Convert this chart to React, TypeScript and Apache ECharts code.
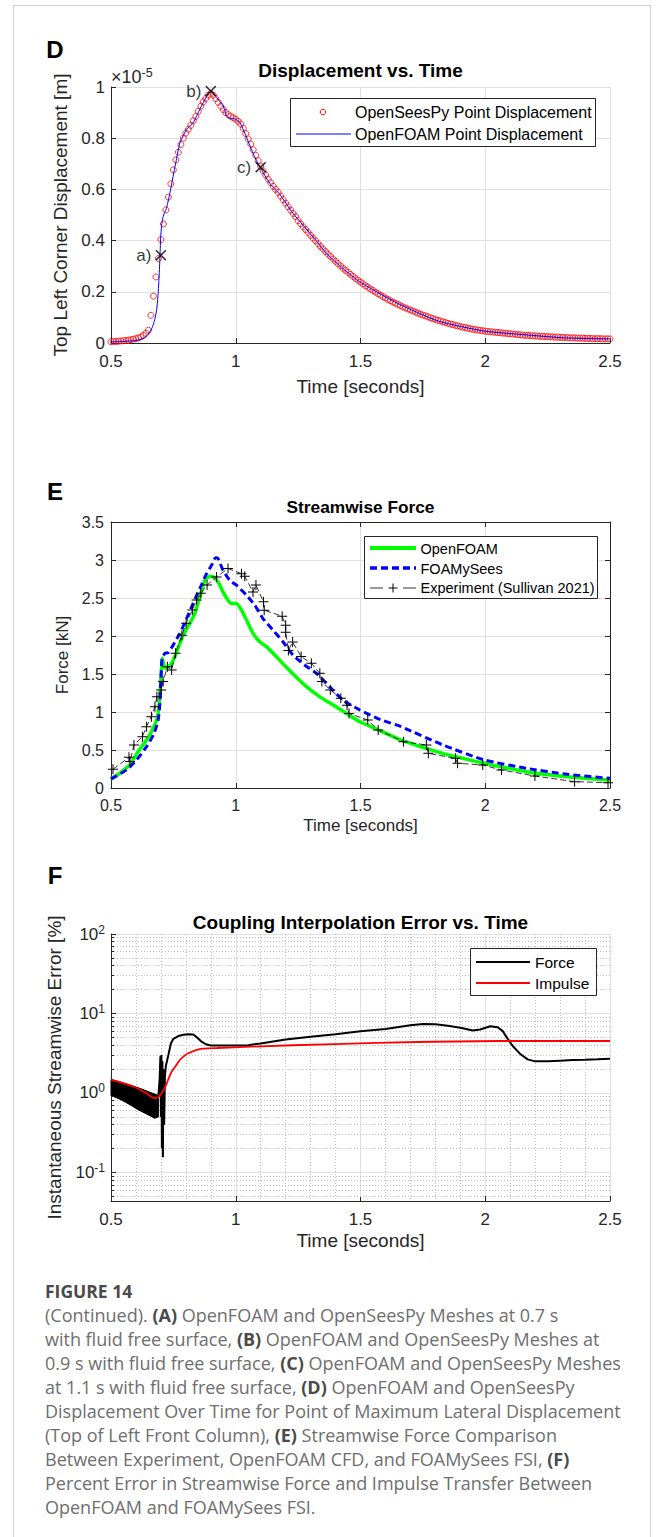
import React, { useEffect, useRef } from "react";
import * as echarts from "echarts";

const FONT = "'Liberation Sans', Arial, Helvetica, sans-serif";
const CAPTION_FONT = "'Open Sans', 'Noto Sans', sans-serif";
const AXIS_COLOR = "#262626";
const GRID_COLOR = "#e0e0e0";
const MINOR_GRID_COLOR = "#bdbdbd";

// ---------------- Panel D: Displacement vs. Time ----------------
const dispTimeStart = 0.5;
const dispTimeStep = 0.01;
// OpenSeesPy point displacement (x1e-5 m), one value every 0.01 s from 0.5 s to 2.5 s
const openSeesPyDisp = [
  0.005, 0.006, 0.006, 0.007, 0.008, 0.009, 0.01, 0.011, 0.013, 0.015,
  0.017, 0.02, 0.024, 0.03, 0.038, 0.05, 0.108, 0.183, 0.258, 0.33,
  0.404, 0.465, 0.52, 0.57, 0.622, 0.676, 0.715, 0.745, 0.775, 0.8,
  0.82, 0.835, 0.85, 0.868, 0.885, 0.905, 0.925, 0.942, 0.955, 0.968,
  0.975, 0.968, 0.955, 0.94, 0.925, 0.912, 0.9, 0.892, 0.885, 0.88,
  0.874, 0.866, 0.855, 0.838, 0.818, 0.797, 0.777, 0.755, 0.733, 0.712,
  0.69, 0.672, 0.656, 0.64, 0.626, 0.612, 0.6, 0.588, 0.574, 0.56,
  0.546, 0.532, 0.519, 0.506, 0.494, 0.478, 0.466, 0.454, 0.443, 0.432,
  0.421, 0.41, 0.399, 0.388, 0.377, 0.367, 0.357, 0.347, 0.338, 0.328,
  0.319, 0.31, 0.301, 0.292, 0.284, 0.276, 0.268, 0.26, 0.252, 0.245,
  0.238, 0.231, 0.224, 0.218, 0.211, 0.205, 0.199, 0.193, 0.187, 0.181,
  0.176, 0.17, 0.165, 0.16, 0.155, 0.151, 0.146, 0.141, 0.137, 0.133,
  0.129, 0.125, 0.121, 0.117, 0.113, 0.109, 0.106, 0.102, 0.099, 0.095,
  0.092, 0.089, 0.086, 0.083, 0.08, 0.077, 0.074, 0.072, 0.069, 0.067,
  0.064, 0.062, 0.06, 0.058, 0.056, 0.054, 0.052, 0.051, 0.049, 0.048,
  0.046, 0.045, 0.044, 0.043, 0.042, 0.041, 0.04, 0.039, 0.038, 0.037,
  0.036, 0.035, 0.034, 0.033, 0.032, 0.031, 0.03, 0.03, 0.029, 0.028,
  0.028, 0.027, 0.026, 0.026, 0.025, 0.025, 0.024, 0.024, 0.023, 0.023,
  0.022, 0.022, 0.021, 0.021, 0.02, 0.02, 0.02, 0.019, 0.019, 0.019,
  0.018, 0.018, 0.018, 0.017, 0.017, 0.017, 0.017, 0.016, 0.016, 0.016,
  0.016,
];
// OpenFOAM point displacement [time, x1e-5 m]
const openFoamDisp: [number, number][] = [
  [0.5, 0.004], [0.55, 0.006], [0.6, 0.01], [0.63, 0.018], [0.65, 0.035],
  [0.665, 0.06], [0.675, 0.09], [0.683, 0.13], [0.688, 0.18], [0.692, 0.245],
  [0.696, 0.33], [0.699, 0.41], [0.703, 0.46], [0.708, 0.49], [0.715, 0.51],
  [0.722, 0.525], [0.736, 0.585], [0.756, 0.687], [0.777, 0.785], [0.79, 0.81],
  [0.803, 0.835], [0.83, 0.862], [0.857, 0.915], [0.884, 0.965], [0.895, 0.978],
  [0.904, 0.982], [0.915, 0.97], [0.924, 0.958], [0.95, 0.925], [0.965, 0.885],
  [0.977, 0.878], [0.997, 0.875], [1.017, 0.86], [1.037, 0.818], [1.07, 0.74],
  [1.097, 0.687], [1.137, 0.623], [1.16, 0.598], [1.177, 0.58], [1.23, 0.506],
  [1.31, 0.414], [1.364, 0.35], [1.43, 0.291], [1.5, 0.237], [1.646, 0.156],
  [1.814, 0.085], [2.0, 0.046], [2.15, 0.033], [2.316, 0.02], [2.5, 0.016],
];
const snapshotTimes = [0.7, 0.9, 1.1];
const snapshotDisp = [0.343, 0.984, 0.687];
const snapshotLabels = ["a)", "b)", "c)"];

// ---------------- Panel E: Streamwise Force ----------------
const openFoamForce: [number, number][] = [
  [0.5, 0.118], [0.536, 0.197], [0.576, 0.306], [0.609, 0.481], [0.643, 0.634],
  [0.669, 0.787], [0.687, 0.94], [0.693, 1.115], [0.699, 1.378], [0.703, 1.597],
  [0.705, 1.706], [0.712, 1.62], [0.72, 1.575], [0.743, 1.64], [0.763, 1.79],
  [0.789, 2.01], [0.816, 2.165], [0.836, 2.297], [0.856, 2.515], [0.876, 2.734],
  [0.896, 2.786], [0.916, 2.769], [0.933, 2.69], [0.949, 2.58], [0.969, 2.47],
  [0.983, 2.428], [1.003, 2.428], [1.023, 2.34], [1.043, 2.21], [1.069, 2.034],
  [1.096, 1.925], [1.123, 1.86], [1.163, 1.728], [1.203, 1.588], [1.243, 1.457],
  [1.283, 1.334], [1.336, 1.203], [1.389, 1.094], [1.443, 0.984], [1.496, 0.875],
  [1.571, 0.765], [1.663, 0.63], [1.83, 0.456], [1.998, 0.325], [2.165, 0.215],
  [2.33, 0.149], [2.5, 0.105],
];
const foamySeesForce: [number, number][] = [
  [0.5, 0.118], [0.563, 0.24], [0.603, 0.372], [0.643, 0.547], [0.673, 0.722],
  [0.689, 0.897], [0.696, 1.115], [0.7, 1.42], [0.705, 1.706], [0.716, 1.772],
  [0.729, 1.78], [0.749, 1.88], [0.776, 2.034], [0.803, 2.23], [0.829, 2.428],
  [0.856, 2.625], [0.883, 2.82], [0.903, 2.93], [0.919, 3.03], [0.929, 3.02],
  [0.949, 2.865], [0.976, 2.734], [1.003, 2.668], [1.043, 2.537], [1.076, 2.406],
  [1.109, 2.23], [1.149, 2.078], [1.189, 1.925], [1.229, 1.75], [1.276, 1.619],
  [1.323, 1.509], [1.376, 1.334], [1.429, 1.159], [1.496, 1.028], [1.58, 0.9],
  [1.663, 0.807], [1.83, 0.566], [1.998, 0.368], [2.165, 0.259], [2.33, 0.18],
  [2.5, 0.127],
];
const experimentForce: [number, number][] = [
  [0.508, 0.246], [0.572, 0.404], [0.576, 0.35], [0.592, 0.566], [0.626, 0.675],
  [0.642, 0.807], [0.662, 0.939], [0.676, 1.07], [0.684, 1.2], [0.701, 1.29],
  [0.709, 1.4], [0.726, 1.596], [0.743, 1.553], [0.759, 1.772], [0.784, 2.01],
  [0.801, 2.167], [0.826, 2.342], [0.843, 2.474], [0.86, 2.561], [0.885, 2.671],
  [0.923, 2.777], [0.969, 2.887], [1.023, 2.82], [1.036, 2.786], [1.069, 2.58],
  [1.081, 2.67], [1.111, 2.45], [1.114, 2.34], [1.186, 2.26], [1.2, 2.14],
  [1.2, 2.05], [1.211, 1.81], [1.228, 1.92], [1.262, 1.73], [1.303, 1.64],
  [1.337, 1.51], [1.345, 1.4], [1.379, 1.29], [1.421, 1.18], [1.446, 1.09],
  [1.454, 0.98], [1.529, 0.895], [1.571, 0.763], [1.672, 0.61], [1.764, 0.566],
  [1.772, 0.456], [1.881, 0.39], [1.889, 0.325], [1.99, 0.303], [2.065, 0.237],
  [2.199, 0.158], [2.358, 0.083], [2.492, 0.07],
];

// ---------------- Panel F: Coupling Interpolation Error ----------------
// rapidly oscillating force error before impact: upper / lower envelope of the black band
const forceBandTimes = [0.5, 0.52, 0.54, 0.56, 0.58, 0.6, 0.62, 0.64, 0.66, 0.675, 0.69];
const forceBandUpper = [1.48, 1.43, 1.37, 1.31, 1.25, 1.19, 1.13, 1.07, 1.01, 0.97, 0.93];
const forceBandLower = [0.92, 0.88, 0.82, 0.76, 0.7, 0.64, 0.59, 0.55, 0.51, 0.48, 0.5];
const forceError: [number, number][] = [
  [0.69, 0.92], [0.695, 1.5], [0.698, 2.9], [0.7, 0.5], [0.702, 3.0],
  [0.704, 0.2], [0.706, 2.5], [0.708, 0.155], [0.71, 2.0], [0.713, 0.4],
  [0.716, 1.6], [0.72, 2.2], [0.73, 3.0], [0.74, 4.2], [0.75, 4.8],
  [0.77, 5.2], [0.79, 5.4], [0.81, 5.5], [0.83, 5.45], [0.845, 5.0],
  [0.86, 4.5], [0.88, 4.1], [0.9, 3.95], [0.95, 3.95], [1.0, 3.95],
  [1.05, 4.0], [1.1, 4.2], [1.2, 4.7], [1.3, 5.1], [1.4, 5.5],
  [1.5, 6.0], [1.6, 6.4], [1.7, 7.1], [1.75, 7.4], [1.8, 7.3],
  [1.85, 7.0], [1.9, 6.6], [1.95, 6.1], [1.98, 6.3], [2.02, 6.9],
  [2.05, 6.7], [2.07, 6.0], [2.09, 4.8], [2.11, 3.9], [2.14, 3.1],
  [2.17, 2.65], [2.2, 2.5], [2.25, 2.5], [2.3, 2.55], [2.35, 2.6],
  [2.4, 2.62], [2.45, 2.65], [2.5, 2.7],
];
const impulseError: [number, number][] = [
  [0.5, 1.46], [0.55, 1.32], [0.592, 1.2], [0.64, 1.0], [0.676, 0.86],
  [0.692, 0.9], [0.705, 1.02], [0.718, 1.2], [0.73, 1.5], [0.743, 1.85],
  [0.76, 2.2], [0.776, 2.6], [0.795, 2.95], [0.81, 3.16], [0.835, 3.42],
  [0.86, 3.58], [0.89, 3.65], [0.927, 3.68], [1.061, 3.83], [1.395, 4.13],
  [1.73, 4.38], [2.065, 4.51], [2.5, 4.51],
];
const logMinorValues = [
  0.05, 0.06, 0.07, 0.08, 0.09,
  0.2, 0.3, 0.4, 0.5, 0.6, 0.7, 0.8, 0.9,
  2, 3, 4, 5, 6, 7, 8, 9,
  20, 30, 40, 50, 60, 70, 80, 90,
];

const captionLines = [
  "(Continued). {b|(A)} OpenFOAM and OpenSeesPy Meshes at 0.7 s",
  "with fluid free surface, {b|(B)} OpenFOAM and OpenSeesPy Meshes at",
  "0.9 s with fluid free surface, {b|(C)} OpenFOAM and OpenSeesPy Meshes",
  "at 1.1 s with fluid free surface, {b|(D)} OpenFOAM and OpenSeesPy",
  "Displacement Over Time for Point of Maximum Lateral Displacement",
  "(Top of Left Front Column), {b|(E)} Streamwise Force Comparison",
  "Between Experiment, OpenFOAM CFD, and FOAMySees FSI, {b|(F)}",
  "Percent Error in Streamwise Force and Impulse Transfer Between",
  "OpenFOAM and FOAMySees FSI.",
];

const X_PATH = "path://M0,1L1,0L5,4L9,0L10,1L6,5L10,9L9,10L5,6L1,10L0,9L4,5Z";
const PLUS_PATH = "path://M4.5,0H5.5V4.5H10V5.5H5.5V10H4.5V5.5H0V4.5H4.5Z";

function txt(x: number, y: number, text: string, opts: any = {}) {
  const align = opts.align || "left";
  return {
    type: "text",
    x,
    y,
    z: 100,
    style: {
      text,
      fill: opts.fill || "#000",
      fontSize: opts.fontSize || 16,
      fontFamily: opts.fontFamily || FONT,
      fontWeight: opts.fontWeight || "normal",
      align,
      textAlign: align,
      verticalAlign: "middle",
      textVerticalAlign: "middle",
      rich: opts.rich,
    },
  };
}
function hline(x1: number, y1: number, x2: number, y2: number, stroke: string, lineWidth = 1, lineDash?: number[]) {
  return {
    type: "line",
    z: 100,
    shape: { x1, y1, x2, y2 },
    style: { stroke, lineWidth, lineDash },
  };
}
function box(x: number, y: number, w: number, h: number) {
  return {
    type: "rect",
    z: 99,
    shape: { x, y, width: w, height: h },
    style: { fill: "#ffffff", stroke: AXIS_COLOR, lineWidth: 1 },
  };
}

const supRich = (base: number, sup: number) => ({
  b: { fontSize: base, fontFamily: FONT, color: AXIS_COLOR, fill: AXIS_COLOR },
  s: { fontSize: sup, fontFamily: FONT, color: AXIS_COLOR, fill: AXIS_COLOR, padding: [0, 0, 9, 0] },
});

function valueAxis(gridIndex: number, min: number, max: number, interval: number, o: any = {}) {
  return {
    type: "value",
    gridIndex,
    min,
    max,
    interval,
    position: o.position,
    axisLine: { show: true, onZero: false, lineStyle: { color: AXIS_COLOR, width: 1 } },
    axisTick: { show: true, inside: true, length: 5, lineStyle: { color: AXIS_COLOR } },
    axisLabel: o.noLabel
      ? { show: false }
      : { show: true, color: AXIS_COLOR, fontSize: o.fontSize || 17, fontFamily: FONT, margin: o.margin ?? 8 },
    splitLine: { show: !!o.split, lineStyle: { color: GRID_COLOR, width: 1 } },
    name: o.name,
    nameLocation: "middle",
    nameGap: o.nameGap,
    nameTextStyle: { color: AXIS_COLOR, fontSize: o.nameSize || 19, fontFamily: FONT },
  };
}

export default function App() {
  const ref = useRef<HTMLDivElement>(null);
  useEffect(() => {
    document.body.style.margin = "0";
    if (!ref.current) return;
    const chart = echarts.init(ref.current, null, { renderer: "svg", width: 656, height: 1537 });

    const openSeesPyData = openSeesPyDisp.map((v, i) => [dispTimeStart + i * dispTimeStep, v]);
    const snapshotData = snapshotTimes.map((t, i) => ({ value: [t, snapshotDisp[i]], name: snapshotLabels[i] }));
    const bandData = forceBandTimes.map((t, i) => [t, forceBandUpper[i], forceBandLower[i]]);

    const logLabel = (v: number) => {
      const e = Math.log10(v);
      const r = Math.round(e);
      if (Math.abs(e - r) > 1e-6) return "";
      return `{b|10}{s|${r}}`;
    };

    const graphics: any[] = [
      // page frame
      hline(13.5, 5, 13.5, 1537, "#d4d4d4"),
      hline(13, 5.5, 650.5, 5.5, "#d4d4d4"),
      hline(650.5, 5, 650.5, 1537, "#d4d4d4"),
      // panel letters
      txt(55, 49, "D", { fontSize: 24, fontWeight: "bold", align: "center" }),
      txt(55, 491, "E", { fontSize: 24, fontWeight: "bold", align: "center" }),
      txt(55, 875, "F", { fontSize: 24, fontWeight: "bold", align: "center" }),
      // titles
      txt(360.5, 70, "Displacement vs. Time", { fontSize: 19, fontWeight: "bold", align: "center" }),
      txt(360.5, 507, "Streamwise Force", { fontSize: 17.3, fontWeight: "bold", align: "center" }),
      txt(360.5, 922, "Coupling Interpolation Error vs. Time", { fontSize: 19, fontWeight: "bold", align: "center" }),
      // exponent
      txt(111, 77, "{b|×10}{s|-5}", { rich: supRich(18, 12.5), fill: AXIS_COLOR }),
      // legend D
      box(290.5, 98.5, 305, 48),
      { type: "circle", z: 100, shape: { cx: 323, cy: 112, r: 2.8 }, style: { fill: "none", stroke: "#ff0000", lineWidth: 1 } },
      hline(296, 134, 351, 134, "#0000ff", 1),
      txt(355, 112.5, "OpenSeesPy Point Displacement", { fontSize: 16 }),
      txt(355, 134, "OpenFOAM Point Displacement", { fontSize: 16 }),
      // legend E
      box(364.5, 536.5, 233, 62),
      hline(370, 548, 416, 548, "#00ff00", 4),
      hline(370, 568, 416, 568, "#0000ff", 3.5, [7, 4]),
      hline(370, 588, 383, 588, "#000000", 0.8),
      hline(403, 588, 416, 588, "#000000", 0.8),
      hline(388.5, 588, 397.5, 588, "#000000", 1),
      hline(393, 583.5, 393, 592.5, "#000000", 1),
      txt(420.5, 548.5, "OpenFOAM", { fontSize: 14.5 }),
      txt(420.5, 568.5, "FOAMySees", { fontSize: 14.5 }),
      txt(420.5, 588, "Experiment (Sullivan 2021)", { fontSize: 14.5 }),
      // legend F
      box(470.5, 948.5, 126, 47),
      hline(476, 962, 530, 962, "#000000", 2),
      hline(476, 983, 530, 983, "#ff0000", 2),
      txt(535, 962, "Force", { fontSize: 15.5 }),
      txt(535, 983, "Impulse", { fontSize: 15.5 }),
      // caption
      txt(45, 1291, "FIGURE 14", { fontSize: 17.5, fontWeight: "bold", fontFamily: CAPTION_FONT, fill: "#4a4a4a" }),
      ...captionLines.map((line, i) =>
        txt(45, 1315 + i * 24, line, {
          fontSize: 18,
          fontFamily: CAPTION_FONT,
          fill: "#6e6e6e",
          rich: { b: { fontWeight: "bold", fontSize: 18, fontFamily: CAPTION_FONT, fill: "#4a4a4a", color: "#4a4a4a" } },
        })
      ),
    ];

    const option: any = {
      animation: false,
      backgroundColor: "#ffffff",
      grid: [
        { left: 111, top: 87, width: 499, height: 256, show: false },
        { left: 111, top: 522, width: 499, height: 266, show: false },
        { left: 111, top: 934, width: 499, height: 267, show: false },
      ],
      xAxis: [
        valueAxis(0, 0.5, 2.5, 0.5, { split: true, name: "Time [seconds]", nameGap: 34, margin: 10 }),
        valueAxis(1, 0.5, 2.5, 0.5, { split: true, name: "Time [seconds]", nameGap: 29, margin: 9, fontSize: 16, nameSize: 17 }),
        valueAxis(1, 0.5, 2.5, 0.5, { position: "top", noLabel: true }),
        {
          ...valueAxis(2, 0.5, 2.5, 0.5, { split: true, name: "Time [seconds]", nameGap: 30, margin: 10 }),
          minorTick: { show: false, splitNumber: 5 },
          minorSplitLine: { show: true, lineStyle: { color: MINOR_GRID_COLOR, type: [1, 2], width: 1 } },
        },
      ],
      yAxis: [
        valueAxis(0, 0, 1, 0.2, { split: true, name: "Top Left Corner Displacement [m]", nameGap: 35, margin: 6 }),
        valueAxis(1, 0, 3.5, 0.5, { split: true, name: "Force [kN]", nameGap: 28, margin: 7, fontSize: 16, nameSize: 17 }),
        valueAxis(1, 0, 3.5, 0.5, { position: "right", noLabel: true }),
        {
          type: "log",
          logBase: 10,
          gridIndex: 2,
          min: 0.0438,
          max: 100,
          axisLine: { show: true, onZero: false, lineStyle: { color: AXIS_COLOR, width: 1 } },
          axisTick: { show: true, inside: true, length: 5, lineStyle: { color: AXIS_COLOR } },
          axisLabel: {
            show: true,
            color: AXIS_COLOR,
            fontFamily: FONT,
            fontSize: 17,
            margin: 6,
            formatter: logLabel,
            rich: supRich(17, 12),
          },
          splitLine: { show: true, lineStyle: { color: GRID_COLOR, width: 1 } },
          name: "Instantaneous Streamwise Error [%]",
          nameLocation: "middle",
          nameGap: 47,
          nameTextStyle: { color: AXIS_COLOR, fontSize: 19, fontFamily: FONT },
        },
      ],
      series: [
        // ---- D ----
        {
          type: "scatter",
          name: "OpenSeesPy Point Displacement",
          xAxisIndex: 0,
          yAxisIndex: 0,
          data: openSeesPyData,
          symbol: "circle",
          symbolSize: 6,
          itemStyle: { color: "rgba(0,0,0,0)", borderColor: "#ff0000", borderWidth: 1 },
          silent: true,
          z: 2,
        },
        {
          type: "line",
          name: "OpenFOAM Point Displacement",
          xAxisIndex: 0,
          yAxisIndex: 0,
          data: openFoamDisp,
          showSymbol: false,
          smooth: 0.2,
          lineStyle: { color: "#0000ff", width: 1 },
          silent: true,
          z: 3,
        },
        {
          type: "scatter",
          name: "snapshots",
          xAxisIndex: 0,
          yAxisIndex: 0,
          data: snapshotData,
          symbol: X_PATH,
          symbolSize: 11,
          itemStyle: { color: "#000000" },
          label: {
            show: true,
            position: "left",
            distance: 4,
            formatter: (p: any) => p.name,
            color: "#000000",
            fontSize: 17,
            fontFamily: FONT,
          },
          silent: true,
          z: 4,
        },
        // ---- E ----
        {
          type: "line",
          name: "OpenFOAM",
          xAxisIndex: 1,
          yAxisIndex: 1,
          data: openFoamForce,
          showSymbol: false,
          smooth: 0.2,
          lineStyle: { color: "#00ff00", width: 3.5 },
          silent: true,
          z: 2,
        },
        {
          type: "line",
          name: "FOAMySees",
          xAxisIndex: 1,
          yAxisIndex: 1,
          data: foamySeesForce,
          showSymbol: false,
          smooth: 0.2,
          lineStyle: { color: "#0000ff", width: 3, type: [7, 4] },
          silent: true,
          z: 3,
        },
        {
          type: "line",
          name: "Experiment (Sullivan 2021)",
          xAxisIndex: 1,
          yAxisIndex: 1,
          data: experimentForce,
          showSymbol: true,
          symbol: PLUS_PATH,
          symbolSize: 10,
          itemStyle: { color: "#000000" },
          lineStyle: { color: "#000000", width: 0.8, type: [6, 3] },
          silent: true,
          z: 4,
        },
        // ---- F ----
        {
          type: "line",
          name: "minor grid",
          xAxisIndex: 3,
          yAxisIndex: 3,
          data: [[2.5, 100]],
          showSymbol: false,
          lineStyle: { width: 0 },
          silent: true,
          z: 1,
          markLine: {
            silent: true,
            z: 1,
            symbol: ["none", "none"],
            label: { show: false },
            lineStyle: { color: MINOR_GRID_COLOR, type: [1, 2], width: 1 },
            data: logMinorValues.map((v) => ({ yAxis: v })),
          },
        },
        {
          type: "line",
          name: "minor ticks",
          xAxisIndex: 3,
          yAxisIndex: 3,
          data: [[2.5, 100]],
          showSymbol: false,
          lineStyle: { width: 0 },
          silent: true,
          z: 5,
          markLine: {
            silent: true,
            z: 5,
            symbol: ["none", "none"],
            label: { show: false },
            lineStyle: { color: AXIS_COLOR, type: "solid", width: 1 },
            data: logMinorValues.map((v) => [{ coord: [0.5, v] }, { coord: [0.512, v] }]),
          },
        },
        {
          type: "custom",
          name: "Force oscillation band",
          xAxisIndex: 3,
          yAxisIndex: 3,
          data: bandData,
          encode: { x: 0, y: [1, 2] },
          silent: true,
          z: 3,
          renderItem: (params: any, api: any) => {
            if (params.dataIndex !== 0) return null;
            const top = forceBandTimes.map((t, i) => api.coord([t, forceBandUpper[i]]));
            const bottom = forceBandTimes.map((t, i) => api.coord([t, forceBandLower[i]])).reverse();
            return {
              type: "polygon",
              shape: { points: top.concat(bottom) },
              style: { fill: "#000000", stroke: "#000000", lineWidth: 1 },
            };
          },
        },
        {
          type: "line",
          name: "Force",
          xAxisIndex: 3,
          yAxisIndex: 3,
          data: forceError,
          showSymbol: false,
          lineStyle: { color: "#000000", width: 2 },
          silent: true,
          z: 3,
        },
        {
          type: "line",
          name: "Impulse",
          xAxisIndex: 3,
          yAxisIndex: 3,
          data: impulseError,
          showSymbol: false,
          smooth: 0.3,
          lineStyle: { color: "#ff0000", width: 1.8 },
          silent: true,
          z: 4,
        },
      ],
      graphic: { elements: graphics },
    };

    chart.setOption(option);
    return () => chart.dispose();
  }, []);

  return <div ref={ref} style={{ width: 656, height: 1537 }} />;
}
